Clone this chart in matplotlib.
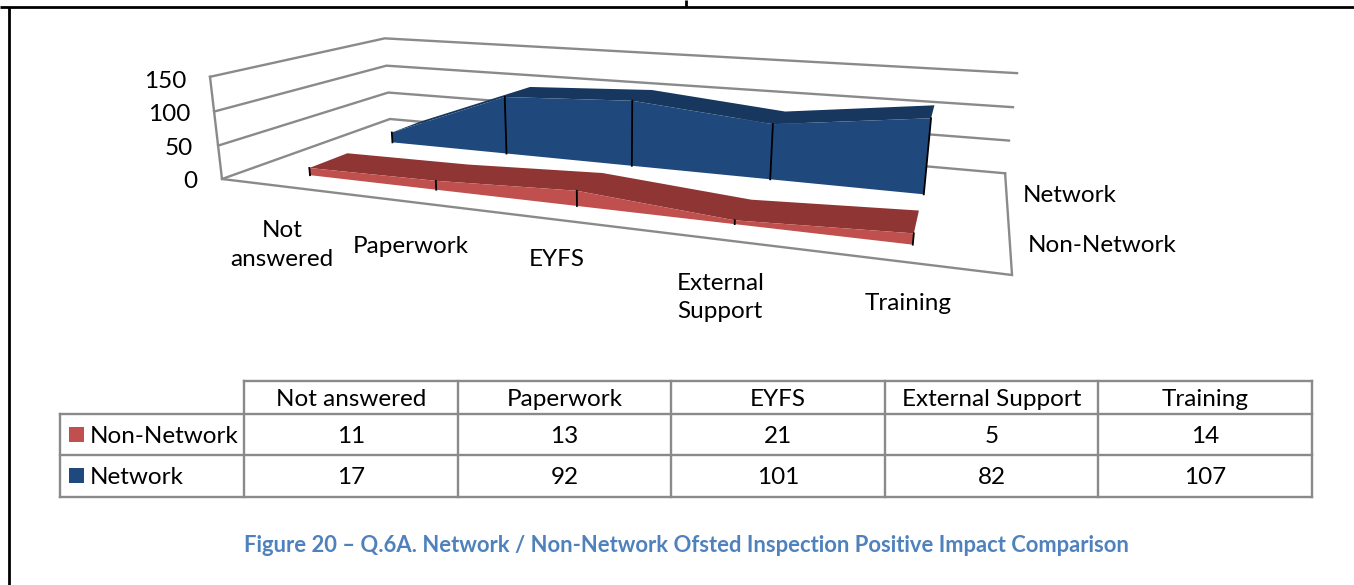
import matplotlib
matplotlib.use("Agg")
import matplotlib.pyplot as plt

plt.rcParams['font.family'] = ['Lato', 'DejaVu Sans']

categories = ['Not answered', 'Paperwork', 'EYFS', 'External Support', 'Training']
non_network = [11, 13, 21, 5, 14]
network = [17, 92, 101, 82, 107]
y_ticks = [0, 50, 100, 150]

GRAY = '#8a8a8a'
RED, RED_TOP = '#C0504D', '#8F3634'
BLUE, BLUE_TOP = '#1F497D', '#17375E'
FS = 17.5
LW = 1.7

fig = plt.figure(figsize=(13.54, 5.85), dpi=100)
ax = fig.add_axes([0, 0, 1, 1])
ax.set_xlim(0, 1354)
ax.set_ylim(585, 0)
ax.axis('off')

# perspective camera of the chart box: u along categories, s in depth, v = value / 150
A, B, C = 526.9, 277.7, 222.0
D, E, F = 24.5, -26.5, 179.0
G, H = -0.26, 0.2814
P, Q, R = -18.3, -104.5, -0.03
VMAX = 150.0


def proj(u, s, value):
    v = value / VMAX
    w = 1 + G * u + H * s + R * v
    return (A * u + B * s + C + P * v) / w, (D * u + E * s + F + Q * v) / w


def poly(points):
    xs, ys = zip(*[proj(*p) for p in points])
    return xs, ys


# walls and floor
for t in y_ticks:
    xs, ys = poly([(0, 0, t), (0, 1, t), (1, 1, t)])
    ax.plot(xs, ys, color=GRAY, lw=LW, solid_joinstyle='miter', zorder=1)
xs, ys = poly([(0, 0, y_ticks[-1]), (0, 0, 0), (1, 0, 0), (1, 1, 0)])
ax.plot(xs, ys, color=GRAY, lw=LW, solid_joinstyle='miter', zorder=1)


# series ribbons
def ribbon(values, s0, s1, front, top, z):
    n = len(values)
    us = [(i + 0.5) / n for i in range(n)]
    # top surface
    pts = [(u, s0, val) for u, val in zip(us, values)] + \
          [(u, s1, val) for u, val in zip(us[::-1], values[::-1])]
    xs, ys = poly(pts)
    ax.fill(xs, ys, color=top, lw=0, zorder=z)
    # front face
    pts = [(u, s0, val) for u, val in zip(us, values)] + [(us[-1], s0, 0), (us[0], s0, 0)]
    xs, ys = poly(pts)
    ax.fill(xs, ys, color=front, lw=0, zorder=z + 0.1)
    # drop lines
    for u, val in zip(us, values):
        xs, ys = poly([(u, s0, 0), (u, s0, val)])
        ax.plot(xs, ys, color='black', lw=1.3, zorder=z + 0.2)


ribbon(network, 0.643, 0.857, BLUE, BLUE_TOP, 2)
ribbon(non_network, 0.143, 0.357, RED, RED_TOP, 3)

# value tick labels
tick_px = {0: (197, 181.5), 50: (193, 148.5), 100: (190, 114.5), 150: (186, 81)}
for t in y_ticks:
    ax.text(*tick_px[t], str(t), ha='right', va='center', fontsize=FS, color='black')

# category labels
ax.text(282, 245, 'Not\nanswered', ha='center', va='center', fontsize=FS, linespacing=1.44)
ax.text(411, 246.5, 'Paperwork', ha='center', va='center', fontsize=FS)
ax.text(557, 259.5, 'EYFS', ha='center', va='center', fontsize=FS)
ax.text(677, 297.5, 'External\nSupport', ha='left', va='center', fontsize=FS, linespacing=1.44)
ax.text(908, 303.5, 'Training', ha='center', va='center', fontsize=FS)

# depth labels
ax.text(1023, 195.5, 'Network', ha='left', va='center', fontsize=FS)
ax.text(1028, 245.5, 'Non-Network', ha='left', va='center', fontsize=FS)

# data table
col_x = [244, 458, 671, 885, 1098, 1312]
row_y = [381, 414, 455, 497]
LEFT = 60
for x in col_x:
    ax.plot([x, x], [row_y[0], row_y[-1]], color=GRAY, lw=LW, solid_capstyle='projecting')
for y in row_y[:1]:
    ax.plot([col_x[0], col_x[-1]], [y, y], color=GRAY, lw=LW, solid_capstyle='projecting')
for y in row_y[1:]:
    ax.plot([LEFT, col_x[-1]], [y, y], color=GRAY, lw=LW, solid_capstyle='projecting')
ax.plot([LEFT, LEFT], [row_y[1], row_y[-1]], color=GRAY, lw=LW, solid_capstyle='projecting')

row_c = [399.5, 436.5, 477.5]
for i, cat in enumerate(categories):
    cx = (col_x[i] + col_x[i + 1]) / 2
    ax.text(cx, row_c[0], cat, ha='center', va='center', fontsize=FS)
    ax.text(cx, row_c[1], str(non_network[i]), ha='center', va='center', fontsize=FS)
    ax.text(cx, row_c[2], str(network[i]), ha='center', va='center', fontsize=FS)

for label, colr, yc in [('Non-Network', RED, row_c[1]), ('Network', BLUE, row_c[2])]:
    ax.fill([69, 84, 84, 69], [yc - 9.5, yc - 9.5, yc + 5.5, yc + 5.5], color=colr, lw=0)
    ax.text(90, yc, label, ha='left', va='center', fontsize=FS)

# caption
ax.text(686.5, 545, 'Figure 20 \u2013 Q.6A. Network / Non-Network Ofsted Inspection Positive Impact Comparison',
        ha='center', va='center', fontsize=15.85, fontweight='bold', color='#4F81BD')

# page frame
ax.plot([0, 1354], [7, 7], color='black', lw=2, solid_capstyle='butt')
ax.plot([9, 9], [7, 585], color='black', lw=2, solid_capstyle='butt')
ax.plot([686, 686], [0, 7], color='black', lw=2, solid_capstyle='butt')

fig.savefig('out.png', dpi=100, facecolor='white')
